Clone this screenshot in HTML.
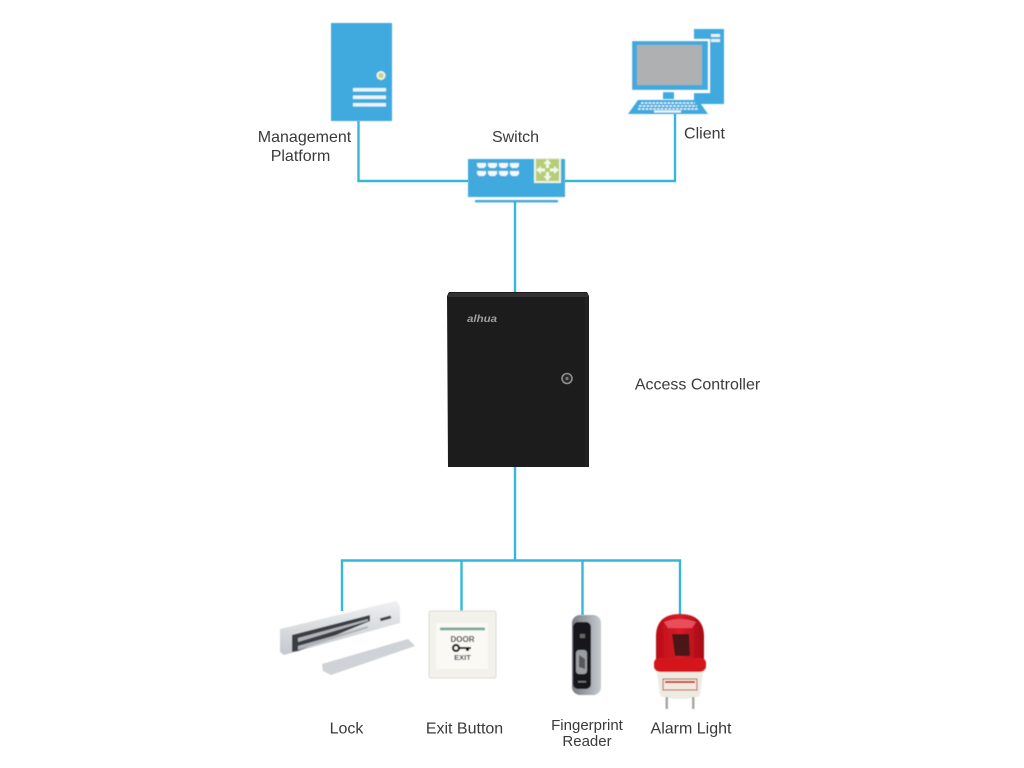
<!DOCTYPE html>
<html><head><meta charset="utf-8"><style>
html,body{margin:0;padding:0;background:#fff}
svg{display:block}
text{font-family:"Liberation Sans",sans-serif;font-size:16px;fill:#3a3a3a}
</style></head><body>
<svg width="1024" height="768" viewBox="0 0 1024 768" xmlns="http://www.w3.org/2000/svg">
<defs>
<filter id="b" x="-5%" y="-5%" width="110%" height="110%"><feGaussianBlur stdDeviation="0.6"/></filter>
<filter id="t" x="-5%" y="-20%" width="110%" height="140%"><feGaussianBlur stdDeviation="0.35"/></filter>
<linearGradient id="lk" x1="0" y1="0" x2="0" y2="1"><stop offset="0" stop-color="#eef0f2"/><stop offset="1" stop-color="#c4c8cc"/></linearGradient>
<linearGradient id="rd" x1="0" y1="0" x2="1" y2="0"><stop offset="0" stop-color="#b80d18"/><stop offset=".5" stop-color="#d91c28"/><stop offset="1" stop-color="#a50a15"/></linearGradient>
<linearGradient id="fp" x1="0" y1="0" x2="1" y2="0"><stop offset="0" stop-color="#777c83"/><stop offset="1" stop-color="#c6cad0"/></linearGradient>
</defs>
<!-- connectors -->
<g fill="none" stroke="#35b8d8" stroke-width="2.400">
<path d="M358.500 121V181H468"/>
<path d="M565 181H675V114"/>
<path d="M515 201V293"/>
<path d="M515 467V560"/>
<path d="M342 611V560.500H680V615"/>
<path d="M461.500 560V612"/>
<path d="M582.500 560V615"/>
</g>
<!-- server -->
<g filter="url(#b)">
<rect x="331" y="23" width="61" height="98" fill="#40a9dd"/>
<circle cx="381" cy="75.500" r="4.500" fill="#f0f4e0"/><circle cx="381" cy="75.500" r="2.600" fill="#c6d28c"/>
<rect x="353" y="88" width="33" height="3.500" fill="#eaf5fb"/>
<rect x="353" y="95.500" width="33" height="3.500" fill="#eaf5fb"/>
<rect x="353" y="103" width="33" height="3.500" fill="#eaf5fb"/>
</g>
<!-- switch -->
<g filter="url(#b)">
<rect x="468" y="159" width="97" height="38" fill="#40a9dd"/>
<rect x="534" y="158" width="27" height="25" fill="#eef3e2"/>
<rect x="536" y="159" width="23" height="22" fill="#b6cd78"/>
<path d="M547.500 159l4 5h-2.500v4h-3v-4h-2.500zM547.500 181l4-5h-2.500v-4h-3v4h-2.500zM536 170l5-4v2.500h4v3h-4v2.500zM559 170l-5-4v2.500h-4v3h4v2.500z" fill="#f3f7e8"/>
<g fill="#f2f8fc">
<path d="M477 163h9v3l-2 2h-5l-2-2zM488 163h9v3l-2 2h-5l-2-2zM499 163h9v3l-2 2h-5l-2-2zM510 163h9v3l-2 2h-5l-2-2z"/>
<path d="M477 171h9v3l-2 2h-5l-2-2zM488 171h9v3l-2 2h-5l-2-2zM499 171h9v3l-2 2h-5l-2-2zM510 171h9v3l-2 2h-5l-2-2z"/>
</g>
<rect x="475" y="200" width="83" height="2.400" fill="#40a9dd"/>
</g>
<!-- client -->
<g filter="url(#b)">
<rect x="694" y="29" width="30" height="75" fill="#40a9dd"/>
<rect x="711" y="34" width="9" height="3" fill="#e6f3fa"/><rect x="711" y="39" width="9" height="3" fill="#e6f3fa"/>
<rect x="630" y="39" width="80" height="54" fill="#fff"/>
<rect x="632" y="41" width="76" height="49" fill="#40a9dd"/>
<rect x="637" y="45" width="65" height="40" fill="#aeb0b2"/>
<rect x="663" y="92" width="11" height="7" fill="#40a9dd"/>
<path d="M638 100H698L708 114H628Z" fill="#40a9dd"/>
<g stroke="#f2f9fc" stroke-width="1.600" stroke-dasharray="2.600 1.200">
<path d="M641 103H695"/><path d="M639 106H697"/><path d="M638 109H698" />
</g>
<rect x="654" y="110.500" width="27" height="2" fill="#f2f9fc"/>
</g>
<!-- controller -->
<g filter="url(#t)">
<path d="M447 296L449 292H587L589 296V467H448Z" fill="#1c1c1d"/>
<rect x="448" y="293" width="140" height="4" fill="#303031"/>
<rect x="448" y="297" width="140" height="170" fill="#1b1b1c"/>
<rect x="585" y="297" width="3" height="170" fill="#232324"/>
<text x="467" y="322" textLength="30" lengthAdjust="spacingAndGlyphs" style="font-size:10px;font-weight:bold;font-style:italic;fill:#a0a0a0">alhua</text>
<circle cx="567" cy="378.500" r="5" fill="#2a2a2a" stroke="#8f8f8f" stroke-width="1.600"/>
<circle cx="567" cy="378.500" r="1.600" fill="#777"/>
</g>
<!-- lock -->
<g filter="url(#b)">
<path d="M280 629L396 601L400 606V623L284 655L280 652Z" fill="url(#lk)"/>
<path d="M292 635L370 615V621L298 651L292 652Z" fill="#3b3e43"/>
<path d="M298 638L368 619V621L298 642ZM298 646L368 626V628L298 650Z" fill="#b0b4b9"/>
<rect x="380" y="617" width="11" height="3" fill="#444" transform="rotate(-15 385 618)"/>
<path d="M322 664L408 639L415 646L331 675L323 671Z" fill="#cfd2d6"/>
</g>
<!-- exit button -->
<g filter="url(#b)">
<rect x="429" y="611" width="67" height="67" rx="2" fill="#f2f1ea" stroke="#dcdcd6"/>
<rect x="436" y="623" width="52" height="46" fill="#faf9f4"/>
<rect x="440" y="627.500" width="45" height="2.800" fill="#7ba89a"/>
<text x="462.500" y="642" text-anchor="middle" style="font-size:8px;font-weight:bold;fill:#333">DOOR</text>
<circle cx="456" cy="648" r="3" fill="none" stroke="#111" stroke-width="2.200"/>
<rect x="459" y="647" width="12" height="2" fill="#111"/><rect x="466" y="649" width="3" height="2" fill="#111"/>
<text x="462.500" y="660" text-anchor="middle" style="font-size:7.500px;font-weight:bold;fill:#333">EXIT</text>
</g>
<!-- fingerprint reader -->
<g filter="url(#b)">
<rect x="572" y="615" width="29" height="80" rx="8" fill="url(#fp)"/>
<rect x="573" y="622" width="18" height="67" rx="5" fill="#16161a"/>
<rect x="576" y="650" width="11" height="24" rx="3" fill="#9b9ea2"/>
<path d="M579 655l6 4v10l-6-2z" fill="#55585c"/>
<rect x="578" y="681" width="8" height="1.500" fill="#777"/>
<rect x="580" y="634" width="5" height="4" fill="#666"/>
</g>
<!-- alarm light -->
<g filter="url(#b)">
<path d="M656 666V635Q657 614 680 614Q703 614 704 635V666Z" fill="url(#rd)"/>
<path d="M672 634h17l1 22h-15z" fill="#4c1212"/>
<path d="M664 622Q680 616 696 622L692 628H668Z" fill="#e8505a"/>
<path d="M654 662Q655 659 658 658H702Q705 659 706 662V667Q705 671 700 672H660Q655 671 654 667Z" fill="#d4121e"/>
<path d="M657 672H703L700 696Q680 702 660 696Z" fill="#ecece2"/>
<rect x="663" y="679" width="34" height="11" fill="#f1e8df" stroke="#c0392b" stroke-width="1"/>
<rect x="665" y="681" width="30" height="2" fill="#c0392b"/>
<rect x="665.500" y="697" width="2.500" height="12" fill="#a8a8a0"/>
<rect x="692" y="697" width="2.500" height="12" fill="#a8a8a0"/>
</g>
<!-- labels -->
<g>
<text x="304.500" y="142" text-anchor="middle">Management</text>
<text x="300.500" y="161" text-anchor="middle">Platform</text>
<text x="515.500" y="142" text-anchor="middle">Switch</text>
<text x="704.500" y="138.500" text-anchor="middle">Client</text>
<text x="697.500" y="389.500" text-anchor="middle">Access Controller</text>
<text x="346.500" y="733.500" text-anchor="middle">Lock</text>
<text x="464.500" y="733.500" text-anchor="middle">Exit Button</text>
<text x="587" y="730" text-anchor="middle" style="font-size:15px">Fingerprint</text>
<text x="587" y="746" text-anchor="middle" style="font-size:15px">Reader</text>
<text x="691" y="733.500" text-anchor="middle">Alarm Light</text>
</g>
</svg>
</body></html>
